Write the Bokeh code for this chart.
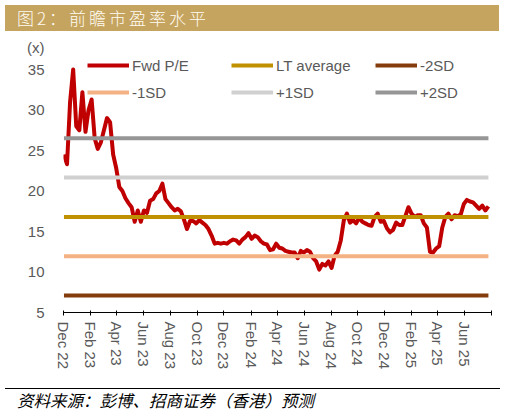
import pandas as pd
from bokeh.plotting import figure
from bokeh.models import (Range1d, FixedTicker, DatetimeTickFormatter, Legend,
                          LegendItem, Div)
from bokeh.layouts import column
from bokeh.embed import file_html
from bokeh.resources import INLINE

# ---- data ----
pe_values = [
    24.5, 23.3, 31.0, 35.0, 28.0, 27.5, 32.2, 27.3, 30.0, 31.3,
    26.5, 25.2, 26.0, 27.5, 29.0, 28.5, 24.5, 22.8, 20.5, 20.0,
    19.1, 18.5, 18.0, 16.2, 17.6, 16.2, 17.6, 17.3, 18.8, 19.0,
    19.7, 20.0, 20.9, 19.0, 18.5, 18.0, 17.6, 17.8, 17.5, 16.5,
    15.3, 16.3, 16.3, 16.0, 16.4, 16.1, 15.8, 15.3, 14.5, 13.5,
    13.6, 13.5, 13.6, 13.5, 13.8, 14.0, 13.9, 13.5, 14.0, 14.3,
    14.8, 14.1, 14.5, 14.3, 13.8, 13.5, 13.4, 12.7, 12.8, 13.5,
    13.0, 12.9, 12.6, 12.5, 12.4, 12.4, 11.7, 12.6, 12.4, 12.7,
    12.5, 11.7, 11.3, 10.3, 11.0, 10.8, 11.3, 10.5, 12.0, 12.5,
    13.9, 16.4, 17.2, 16.1, 16.4, 16.0, 16.7, 16.2, 16.0, 15.8,
    15.7, 16.8, 17.2, 16.2, 16.3, 15.4, 14.9, 15.2, 16.1, 15.8,
    15.8, 16.9, 18.0, 17.2, 16.8, 17.0, 17.0, 16.0, 15.5, 12.5,
    12.4, 12.9, 13.2, 15.5, 16.8, 17.2, 16.5, 17.0, 16.9, 17.1,
    18.4, 18.9, 18.7, 18.6, 18.2, 17.8, 18.2, 17.6, 18.1,
]
pe_dates = pd.date_range("2022-12-02", periods=len(pe_values), freq="7D")

lt_average = 16.8
minus_2sd = 7.1
minus_1sd = 11.95
plus_1sd = 21.65
plus_2sd = 26.5

y_ticks = [5, 10, 15, 20, 25, 30, 35]
unit_text = "(x)"
unit_pos = 37.7
x_tick_dates = ["2022-12-01", "2023-02-01", "2023-04-01", "2023-06-01",
                "2023-08-01", "2023-10-01", "2023-12-01", "2024-02-01",
                "2024-04-01", "2024-06-01", "2024-08-01", "2024-10-01",
                "2024-12-01", "2025-02-01", "2025-04-01", "2025-06-01"]
x_end_date = "2025-08-01"

title_text = "图2：前瞻市盈率水平"
source_text = "资料来源：彭博、招商证券（香港）预测"

GRAY = "#595959"
FONT = "Liberation Sans"

def ms(d):
    return pd.Timestamp(d).value // 10**6

p = figure(width=505, height=357, x_axis_type="datetime",
           x_range=Range1d(pd.Timestamp(x_tick_dates[0]), pd.Timestamp(x_end_date)),
           y_range=Range1d(5, 38.33),
           output_backend="svg", toolbar_location=None, title=None,
           min_border_left=63, min_border_right=14,
           min_border_top=11, min_border_bottom=76)
p.outline_line_color = None
p.xgrid.visible = False
p.ygrid.visible = False
p.background_fill_color = "white"
p.border_fill_color = "white"

band_x = [pe_dates[0], pe_dates[-1]]
r_pe = p.line(pe_dates, pe_values, line_color="#C00000", line_width=4,
              line_join="round")
r_avg = p.line(band_x, [lt_average] * 2, line_color="#BF9000", line_width=4)
r_m2 = p.line(band_x, [minus_2sd] * 2, line_color="#843C0C", line_width=4)
r_m1 = p.line(band_x, [minus_1sd] * 2, line_color="#F4B183", line_width=4)
r_p1 = p.line(band_x, [plus_1sd] * 2, line_color="#D0D0D0", line_width=4)
r_p2 = p.line(band_x, [plus_2sd] * 2, line_color="#969696", line_width=4)

# axes
yax = p.yaxis[0]
yax.ticker = FixedTicker(ticks=y_ticks + [unit_pos])
yax.major_label_overrides = {unit_pos: unit_text}
yax.axis_line_color = None
yax.major_tick_line_color = None
yax.minor_tick_line_color = None
yax.major_tick_in = 0
yax.major_tick_out = 0
yax.major_label_standoff = 19
yax.major_label_text_font = FONT
yax.major_label_text_font_size = "15px"
yax.major_label_text_color = GRAY

xax = p.xaxis[0]
xax.ticker = FixedTicker(ticks=[ms(d) for d in x_tick_dates],
                         minor_ticks=[ms(x_end_date)])
fmt = "%b %y"
xax.formatter = DatetimeTickFormatter(days=fmt, months=fmt, years=fmt,
                                      hours=fmt, minutes=fmt)
xax.axis_line_color = "black"
xax.axis_line_width = 1
xax.major_tick_line_color = "black"
xax.minor_tick_line_color = "black"
xax.major_tick_in = 2
xax.major_tick_out = 3
xax.minor_tick_in = 2
xax.minor_tick_out = 3
xax.major_label_orientation = "vertical"
xax.major_label_standoff = 6
xax.major_label_text_font = FONT
xax.major_label_text_font_size = "15px"
xax.major_label_text_color = GRAY

legend = Legend(items=[
    LegendItem(label="Fwd P/E", renderers=[r_pe]),
    LegendItem(label="LT average", renderers=[r_avg]),
    LegendItem(label="-2SD", renderers=[r_m2]),
    LegendItem(label="-1SD", renderers=[r_m1]),
    LegendItem(label="+1SD", renderers=[r_p1]),
    LegendItem(label="+2SD", renderers=[r_p2]),
], location=(24, 210), orientation="horizontal", ncols=3,
    glyph_width=42, glyph_height=20, label_height=20, label_width=92,
    label_standoff=3, spacing=7, padding=0, margin=0,
    border_line_color=None, background_fill_alpha=0,
    label_text_font=FONT, label_text_font_size="15px", label_text_color=GRAY)
p.add_layout(legend, "center")

title_div = Div(width=494, height=26, margin=(5, 6, 0, 5), text=(
    '<div style="width:494px;height:26px;background:#C5A45F;color:#FFFBF2;'
    'font-family:\'Noto Sans CJK SC\';font-weight:300;font-size:17px;'
    'letter-spacing:3px;line-height:26px;padding-left:12px;'
    'box-sizing:border-box;white-space:nowrap;">' + title_text + '</div>'))

footer_div = Div(width=495, height=24, margin=(0, 5, 0, 5), text=(
    '<div style="width:495px;height:24px;border-top:1px solid #000;'
    'font-family:\'Noto Sans CJK SC\';font-size:16.5px;font-style:italic;'
    'line-height:22px;padding-left:12px;box-sizing:border-box;color:#000;'
    'white-space:nowrap;">' + source_text + '</div>'))

layout = column(title_div, p, footer_div, spacing=0)

open("out.html", "w").write(file_html(layout, INLINE))
